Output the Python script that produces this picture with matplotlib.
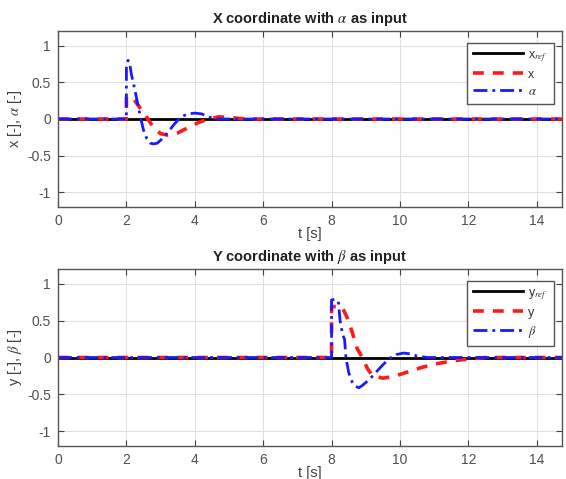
import matplotlib
matplotlib.use("Agg")
import matplotlib.pyplot as plt

plt.rcParams['font.family'] = ['Liberation Sans', 'DejaVu Sans']
plt.rcParams['mathtext.fontset'] = 'stix'

# ---- data ----
t_ref = [0, 15]
ref = [0, 0]

t_x = [0, 2.0, 2.001, 2.2, 2.4, 2.6, 2.8, 3.0, 3.2, 3.5, 3.8, 4.1, 4.4, 4.7, 5.0, 5.5, 15]
x_vals = [0, 0, 0.30, 0.28, 0.15, 0.02, -0.12, -0.20, -0.22, -0.19, -0.12, -0.05, 0.0, 0.03, 0.02, 0, 0]

t_a = [0, 2.0, 2.001, 2.05, 2.1, 2.15, 2.2, 2.3, 2.4, 2.5, 2.6, 2.7, 2.8, 2.9, 3.0, 3.2,
       3.4, 3.6, 3.8, 4.0, 4.2, 4.4, 4.6, 15]
a_vals = [0, 0, 0.72, 0.80, 0.75, 0.60, 0.50, 0.28, 0.05, -0.15, -0.27, -0.33, -0.34, -0.33,
          -0.29, -0.19, -0.07, 0.03, 0.07, 0.08, 0.07, 0.03, 0.0, 0]

t_y = [0, 8.0, 8.001, 8.3, 8.45, 8.6, 8.75, 8.9, 9.05, 9.2, 9.5, 9.8, 10.2, 10.6, 11.0,
       11.5, 12.0, 12.5, 15]
y_vals = [0, 0, 0.69, 0.69, 0.55, 0.35, 0.12, 0.0, -0.15, -0.25, -0.28, -0.26, -0.20, -0.14,
          -0.09, -0.05, -0.02, 0, 0]

t_b = [0, 8.0, 8.001, 8.1, 8.2, 8.25, 8.33, 8.38, 8.42, 8.5, 8.6, 8.7, 8.8, 8.9, 9.1, 9.3,
       9.5, 9.7, 9.9, 10.1, 10.3, 10.5, 10.8, 15]
b_vals = [0, 0, 0.78, 0.79, 0.76, 0.50, 0.30, 0.25, 0.0, -0.20, -0.33, -0.39, -0.41, -0.38,
          -0.30, -0.20, -0.10, -0.01, 0.04, 0.06, 0.05, 0.02, 0, 0]

xticks = [0, 2, 4, 6, 8, 10, 12, 14]
yticks = [-1, -0.5, 0, 0.5, 1]
yticklabels = ['-1', '-0.5', '0', '0.5', '1']

W, H = 566, 479
fig = plt.figure(figsize=(W / 100, H / 100), dpi=100)

ax_col = '#404040'

def make_ax(top_px, bot_px):
    left = 58 / W
    right = 562 / W
    ax = fig.add_axes([left, 1 - bot_px / H, right - left, (bot_px - top_px) / H])
    return ax

def style(ax, title, ylabel):
    ax.set_xlim(0, 14.74)
    ax.set_ylim(-1.2, 1.2)
    ax.set_xticks(xticks)
    ax.set_yticks(yticks)
    ax.set_yticklabels(yticklabels)
    ax.grid(True, color='#e0e0e0', linewidth=0.8)
    ax.set_axisbelow(True)
    ax.tick_params(direction='in', top=True, right=True, colors=ax_col,
                   labelsize=10, length=4, width=0.8, labelcolor='#505050', pad=5)
    for s in ax.spines.values():
        s.set_color('#555555')
        s.set_linewidth(1.0)
    ax.set_title(title, fontsize=10.5, fontweight='bold', color='#202020', pad=6)
    ax.set_xlabel('t [s]', fontsize=10.5, color='#404040', labelpad=-1)
    ax.set_ylabel(ylabel, fontsize=10.5, color='#404040', labelpad=2)

lw = 2.0
ax1 = make_ax(31, 207)
ax1.plot(t_ref, ref, color='black', lw=lw, label=r'x$_{ref}$')
ax1.plot(t_x, x_vals, color='#ff1a1a', lw=2.6, ls=(0, (3, 2.5)), label='x')
ax1.plot(t_a, a_vals, color='#1a1aff', lw=lw, ls=(0, (5, 1.8, 1, 1.8)), label=r'$\alpha$')
style(ax1, r'X coordinate with $\alpha$ as input', r'x [-], $\alpha$ [-]')

ax2 = make_ax(269, 446)
ax2.plot(t_ref, ref, color='black', lw=lw, label=r'y$_{ref}$')
ax2.plot(t_y, y_vals, color='#ff1a1a', lw=2.6, ls=(0, (3, 2.5)), label='y')
ax2.plot(t_b, b_vals, color='#1a1aff', lw=lw, ls=(0, (5, 1.8, 1, 1.8)), label=r'$\beta$')
style(ax2, r'Y coordinate with $\beta$ as input', r'y [-], $\beta$ [-]')

for ax in (ax1, ax2):
    leg = ax.legend(loc='upper right', bbox_to_anchor=(0.996, 0.97), fontsize=9,
                    handlelength=4.0, handletextpad=0.4, labelspacing=0.4,
                    borderpad=0.5, fancybox=False, framealpha=1, edgecolor='#555555')
    leg.get_frame().set_linewidth(1.0)
    for txt in leg.get_texts():
        txt.set_color('#303030')

fig.savefig('out.png', dpi=100)
